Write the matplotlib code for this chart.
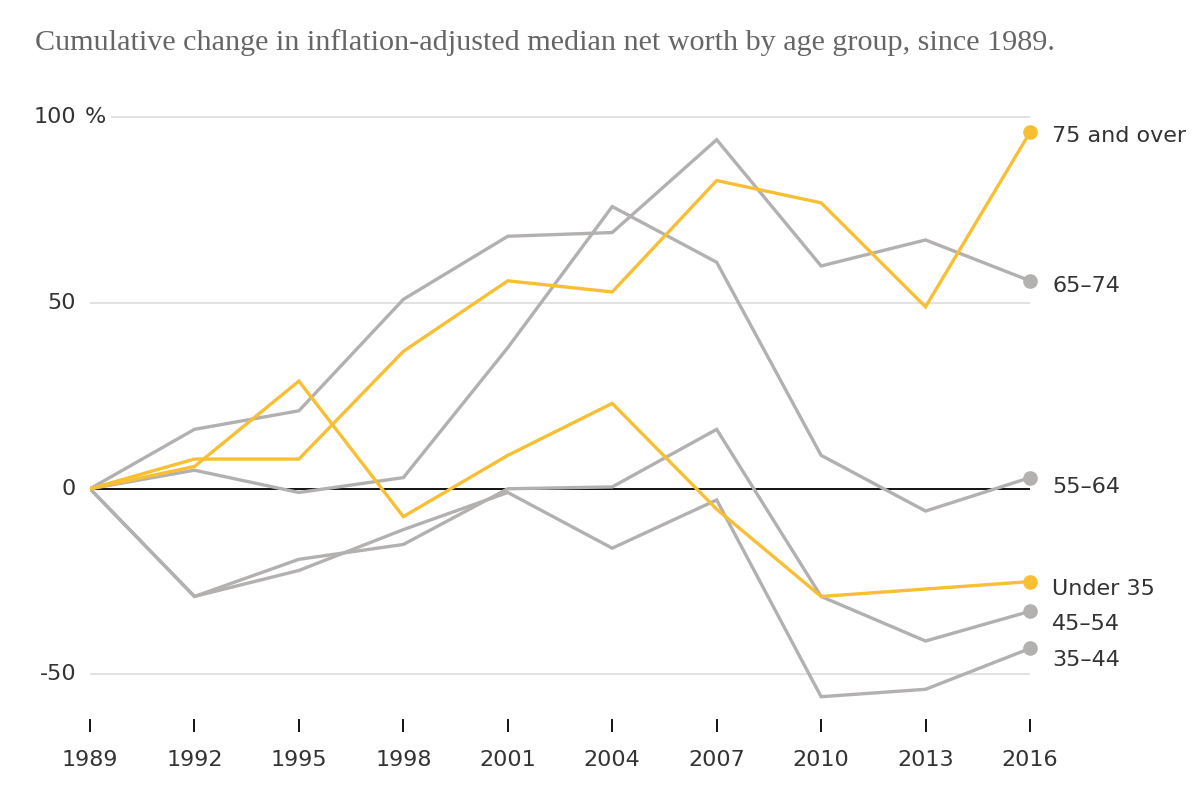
import matplotlib
matplotlib.use("Agg")
import matplotlib.pyplot as plt

# cumulative change in median net worth since 1989, percent
years = [1989, 1992, 1995, 1998, 2001, 2004, 2007, 2010, 2013, 2016]
under_35 = [0, 6, 29, -7.5, 9, 23, -5.5, -29, -27, -25]
age_35_44 = [0, -29, -22, -11, -1, -16, -3, -56, -54, -43]
age_45_54 = [0, -29, -19, -15, 0, 0.5, 16, -29, -41, -33]
age_55_64 = [0, 5, -1, 3, 38, 76, 61, 9, -6, 3]
age_65_74 = [0, 16, 21, 51, 68, 69, 94, 60, 67, 56]
age_75_up = [0, 8, 8, 37, 56, 53, 83, 77, 49, 96]

series_names = ["35–44", "45–54", "55–64", "65–74", "Under 35", "75 and over"]
series_vals = [age_35_44, age_45_54, age_55_64, age_65_74, under_35, age_75_up]
highlight = [False, False, False, False, True, True]
label_dy = [-8, -9, -7, -4, -5, -3]   # label nudge in points

yellow = "#f8bf33"
gray = "#b3b0b0"
text_col = "#333333"

fig = plt.figure(figsize=(12, 7.98), dpi=100)
ax = fig.add_axes([90/1200, 79/798, 940/1200, 609/798])
ax.set_xlim(1989, 2016)
ax.set_ylim(-62, 102)
for s in ax.spines.values():
    s.set_visible(False)

# grid lines
for g in [50, -50]:
    ax.hlines(g, 1989, 2016, color="#dddddd", lw=1.2, zorder=1)
ax.hlines(100, 1989.6, 2016, color="#dddddd", lw=1.2, zorder=1)
ax.hlines(0, 1989, 2016, color="black", lw=1.3, zorder=2)

for name, vals, hi, dy in zip(series_names, series_vals, highlight, label_dy):
    c = yellow if hi else gray
    z = 4 if hi else 3
    ax.plot(years, vals, color=c, lw=2.4, zorder=z, solid_joinstyle="miter")
    ax.plot(years[-1], vals[-1], "o", color=c, ms=9.5, zorder=z, clip_on=False)
    ax.annotate(name, xy=(years[-1], vals[-1]), xytext=(16, dy),
                textcoords="offset points", ha="left", va="center",
                fontsize=16, color=text_col, annotation_clip=False)

# y labels
ax.set_yticks([])
for v in [100, 50, 0, -50]:
    ax.annotate(str(v), xy=(0, v), xycoords=("axes fraction", "data"),
                xytext=(-10, 0), textcoords="offset points",
                ha="right", va="center", fontsize=16, color=text_col)
ax.annotate("%", xy=(0, 100), xycoords=("axes fraction", "data"),
            xytext=(-4, 0), textcoords="offset points",
            ha="left", va="center", fontsize=16, color=text_col)

ax.set_xticks(years)
ax.set_xticklabels([str(y) for y in years])
ax.tick_params(axis="x", direction="out", length=9.5, width=1.3, color="black",
               pad=13, labelsize=16, labelcolor=text_col)

fig.text(35/1200, 1 - 43/798, "Cumulative change in inflation-adjusted median net worth by age group, since 1989.",
         family="Liberation Serif", fontsize=21.7, color="#666666", ha="left", va="center")

fig.savefig("out.png", dpi=100)
